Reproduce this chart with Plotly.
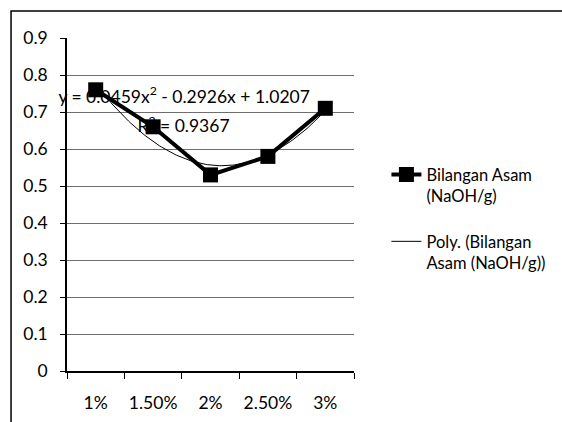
import numpy as np
import plotly.graph_objects as go

categories = ["1%", "1.50%", "2%", "2.50%", "3%"]
bilangan_asam = [0.76, 0.66, 0.53, 0.58, 0.71]
y_ticks = [0, 0.1, 0.2, 0.3, 0.4, 0.5, 0.6, 0.7, 0.8, 0.9]
y_tick_labels = ["0", "0.1", "0.2", "0.3", "0.4", "0.5", "0.6", "0.7", "0.8", "0.9"]
equation_text = "y = 0.0459x<sup>2</sup> - 0.2926x + 1.0207"
r2_text = "R<sup>2</sup> = 0.9367"

# category positions 1..n (Excel's x index) and polynomial (order 2) trendline fitted to the data
idx = np.arange(1, len(categories) + 1)
coef = np.polyfit(idx, bilangan_asam, 2)
xs = np.linspace(1, len(categories), 120)
ys = np.polyval(coef, xs)
boundaries = np.arange(0.5, len(categories) + 1, 1.0)

FONT = "Lato"
TXT = "#000000"
fig = go.Figure()
# trendline label (drawn below the series, like Excel)
fig.add_trace(go.Scatter(
    x=[2.54, 2.53], y=[0.737, 0.657], mode="text",
    text=[equation_text, r2_text], textposition="middle center",
    textfont=dict(family=FONT, size=17.5, color=TXT),
    showlegend=False, hoverinfo="skip", cliponaxis=False,
))
fig.add_trace(go.Scatter(
    x=idx, y=bilangan_asam, mode="lines+markers",
    name="Bilangan Asam<br>(NaOH/g)", legendgroup="a",
    line=dict(color="black", width=4),
    marker=dict(symbol="square", size=15, color="black"),
))
fig.add_trace(go.Scatter(
    x=xs, y=ys, mode="lines",
    name="Poly. (Bilangan<br>Asam (NaOH/g))", legendgroup="b",
    line=dict(color="black", width=1),
))

fig.update_layout(
    width=562, height=422,
    margin=dict(l=67, r=208, t=38, b=51, autoexpand=False),
    paper_bgcolor="white", plot_bgcolor="white",
    font=dict(family=FONT, size=17.5, color=TXT),
    xaxis=dict(
        range=[0.5, len(categories) + 0.5], tickvals=idx, ticktext=categories,
        ticks="", showline=True, linecolor="black", linewidth=1.5,
        showgrid=False, zeroline=False, ticklabelstandoff=15,
        minor=dict(tickvals=boundaries, ticks="outside", ticklen=6,
                   tickcolor="black", tickwidth=1.3, showgrid=False),
    ),
    yaxis=dict(
        range=[0, 0.9], tickvals=y_ticks, ticktext=y_tick_labels,
        ticks="outside", ticklen=5, tickcolor="black", tickwidth=1.3,
        showline=True, linecolor="black", linewidth=1.5,
        showgrid=True, gridcolor="#6e6e6e", gridwidth=1.3,
        zeroline=False, ticklabelstandoff=9,
    ),
    legend=dict(
        x=1.113, y=0.642, xanchor="left", yanchor="top",
        valign="top", font=dict(family=FONT, size=16.5, color=TXT),
        bgcolor="rgba(0,0,0,0)", itemwidth=30,
        traceorder="grouped", tracegroupgap=21,
    ),
    showlegend=True,
)

# outer chart frame (only top and left visible in the crop)
fig.add_shape(type="rect", xref="paper", yref="paper",
              x0=-0.195, x1=2.0, y0=-1.0, y1=1.081,
              line=dict(color="black", width=1.5), layer="below")

fig.write_html("out.html", config={"displayModeBar": False},
               post_script="document.body.style.margin='0px';")
